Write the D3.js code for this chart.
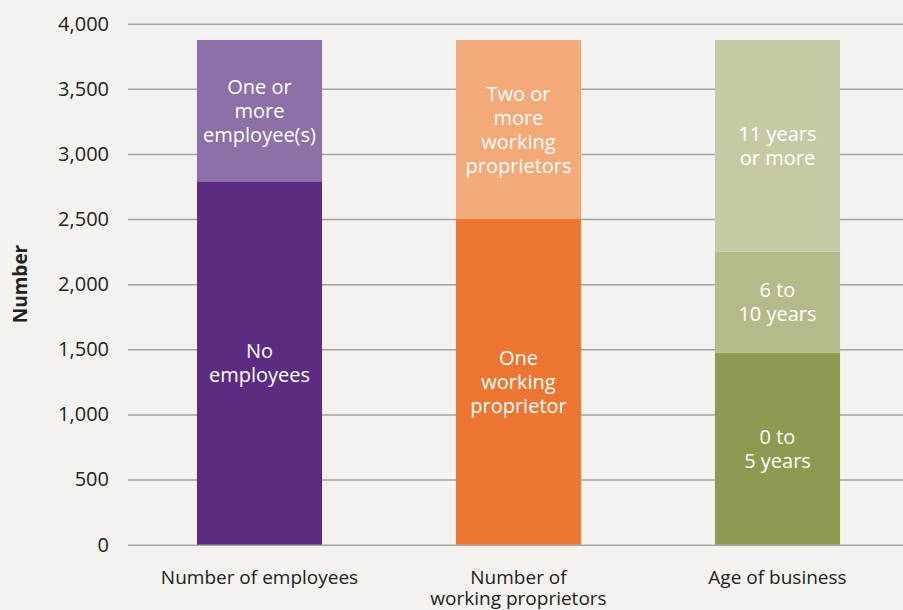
<!DOCTYPE html>
<html>
<head>
<meta charset="utf-8">
<script src="https://cdn.jsdelivr.net/npm/d3@7"></script>
<style>
  html, body { margin: 0; padding: 0; background: #f3f2ee; }
  svg { display: block; font-family: "Open Sans", sans-serif; }
</style>
</head>
<body>
<script>
// categories along the x axis (multi-line labels)
const categories = ['employees', 'proprietors', 'age'];
const categoryLabels = [['Number of employees'], ['Number of', 'working proprietors'], ['Age of business']];

// stacked segments per category, bottom to top
const segmentValues = [
  [2790, 1085],
  [2500, 1375],
  [1475, 775, 1625]
];
const segmentLabels = [
  [['No', 'employees'], ['One or', 'more', 'employee(s)']],
  [['One', 'working', 'proprietor'], ['Two or', 'more', 'working', 'proprietors']],
  [['0 to', '5 years'], ['6 to', '10 years'], ['11 years', 'or more']]
];
const segmentColors = [
  ['#5b2c81', '#8b71a8'],
  ['#ed7732', '#f3a978'],
  ['#8e9a50', '#b6ba8b', '#c7c9a4']
];

const yTicks = [0, 500, 1000, 1500, 2000, 2500, 3000, 3500, 4000];

const width = 903, height = 610;

const svg = d3.select('body')
  .append('svg')
  .attr('width', width)
  .attr('height', height);

const x = d3.scaleBand()
  .domain(categories)
  .range([130, 907])
  .paddingInner(0.517)
  .paddingOuter(0.2585);

const y = d3.scaleLinear()
  .domain([0, 4000])
  .range([544.7, 23.7]);

// gridlines + tick labels
const yAxis = d3.axisLeft(y)
  .tickValues(yTicks)
  .tickSize(-(width - 128))
  .tickPadding(19)
  .tickFormat(d3.format(','));

svg.append('g')
  .attr('transform', 'translate(128,0)')
  .call(yAxis)
  .call(g => g.select('.domain').remove())
  .call(g => g.selectAll('.tick line').attr('stroke', '#a3a3a3').attr('stroke-width', 1.5))
  .call(g => g.selectAll('.tick text')
    .attr('fill', '#222')
    .style('font-size', '20px')
    .style('font-family', '"Open Sans", sans-serif'));

// stacked bars
categories.forEach((cat, i) => {
  let base = 0;
  segmentValues[i].forEach((v, j) => {
    const y0 = y(base), y1 = y(base + v);
    svg.append('rect')
      .attr('x', x(cat))
      .attr('y', y1)
      .attr('width', x.bandwidth())
      .attr('height', y0 - y1)
      .attr('fill', segmentColors[i][j]);

    const lines = segmentLabels[i][j];
    const lh = 24;
    const cy = (y0 + y1) / 2;
    const t = svg.append('text')
      .attr('text-anchor', 'middle')
      .attr('fill', '#fff')
      .style('font-size', '20px');
    lines.forEach((ln, k) => {
      t.append('tspan')
        .attr('x', x(cat) + x.bandwidth() / 2)
        .attr('y', cy + (k - (lines.length - 1) / 2) * lh)
        .attr('dy', '0.35em')
        .text(ln);
    });
    base += v;
  });

  // category label
  const ct = svg.append('text')
    .attr('text-anchor', 'middle')
    .attr('fill', '#222')
    .style('font-size', '19px');
  categoryLabels[i].forEach((ln, k) => {
    ct.append('tspan')
      .attr('x', x(cat) + x.bandwidth() / 2)
      .attr('y', 577 + k * 21)
      .attr('dy', '0.35em')
      .text(ln);
  });
});

// y axis title
svg.append('text')
  .attr('transform', 'translate(20,284) rotate(-90)')
  .attr('text-anchor', 'middle')
  .attr('dy', '0.35em')
  .attr('fill', '#222')
  .style('font-size', '19px')
  .style('font-weight', 'bold')
  .text('Number');
</script>
</body>
</html>
